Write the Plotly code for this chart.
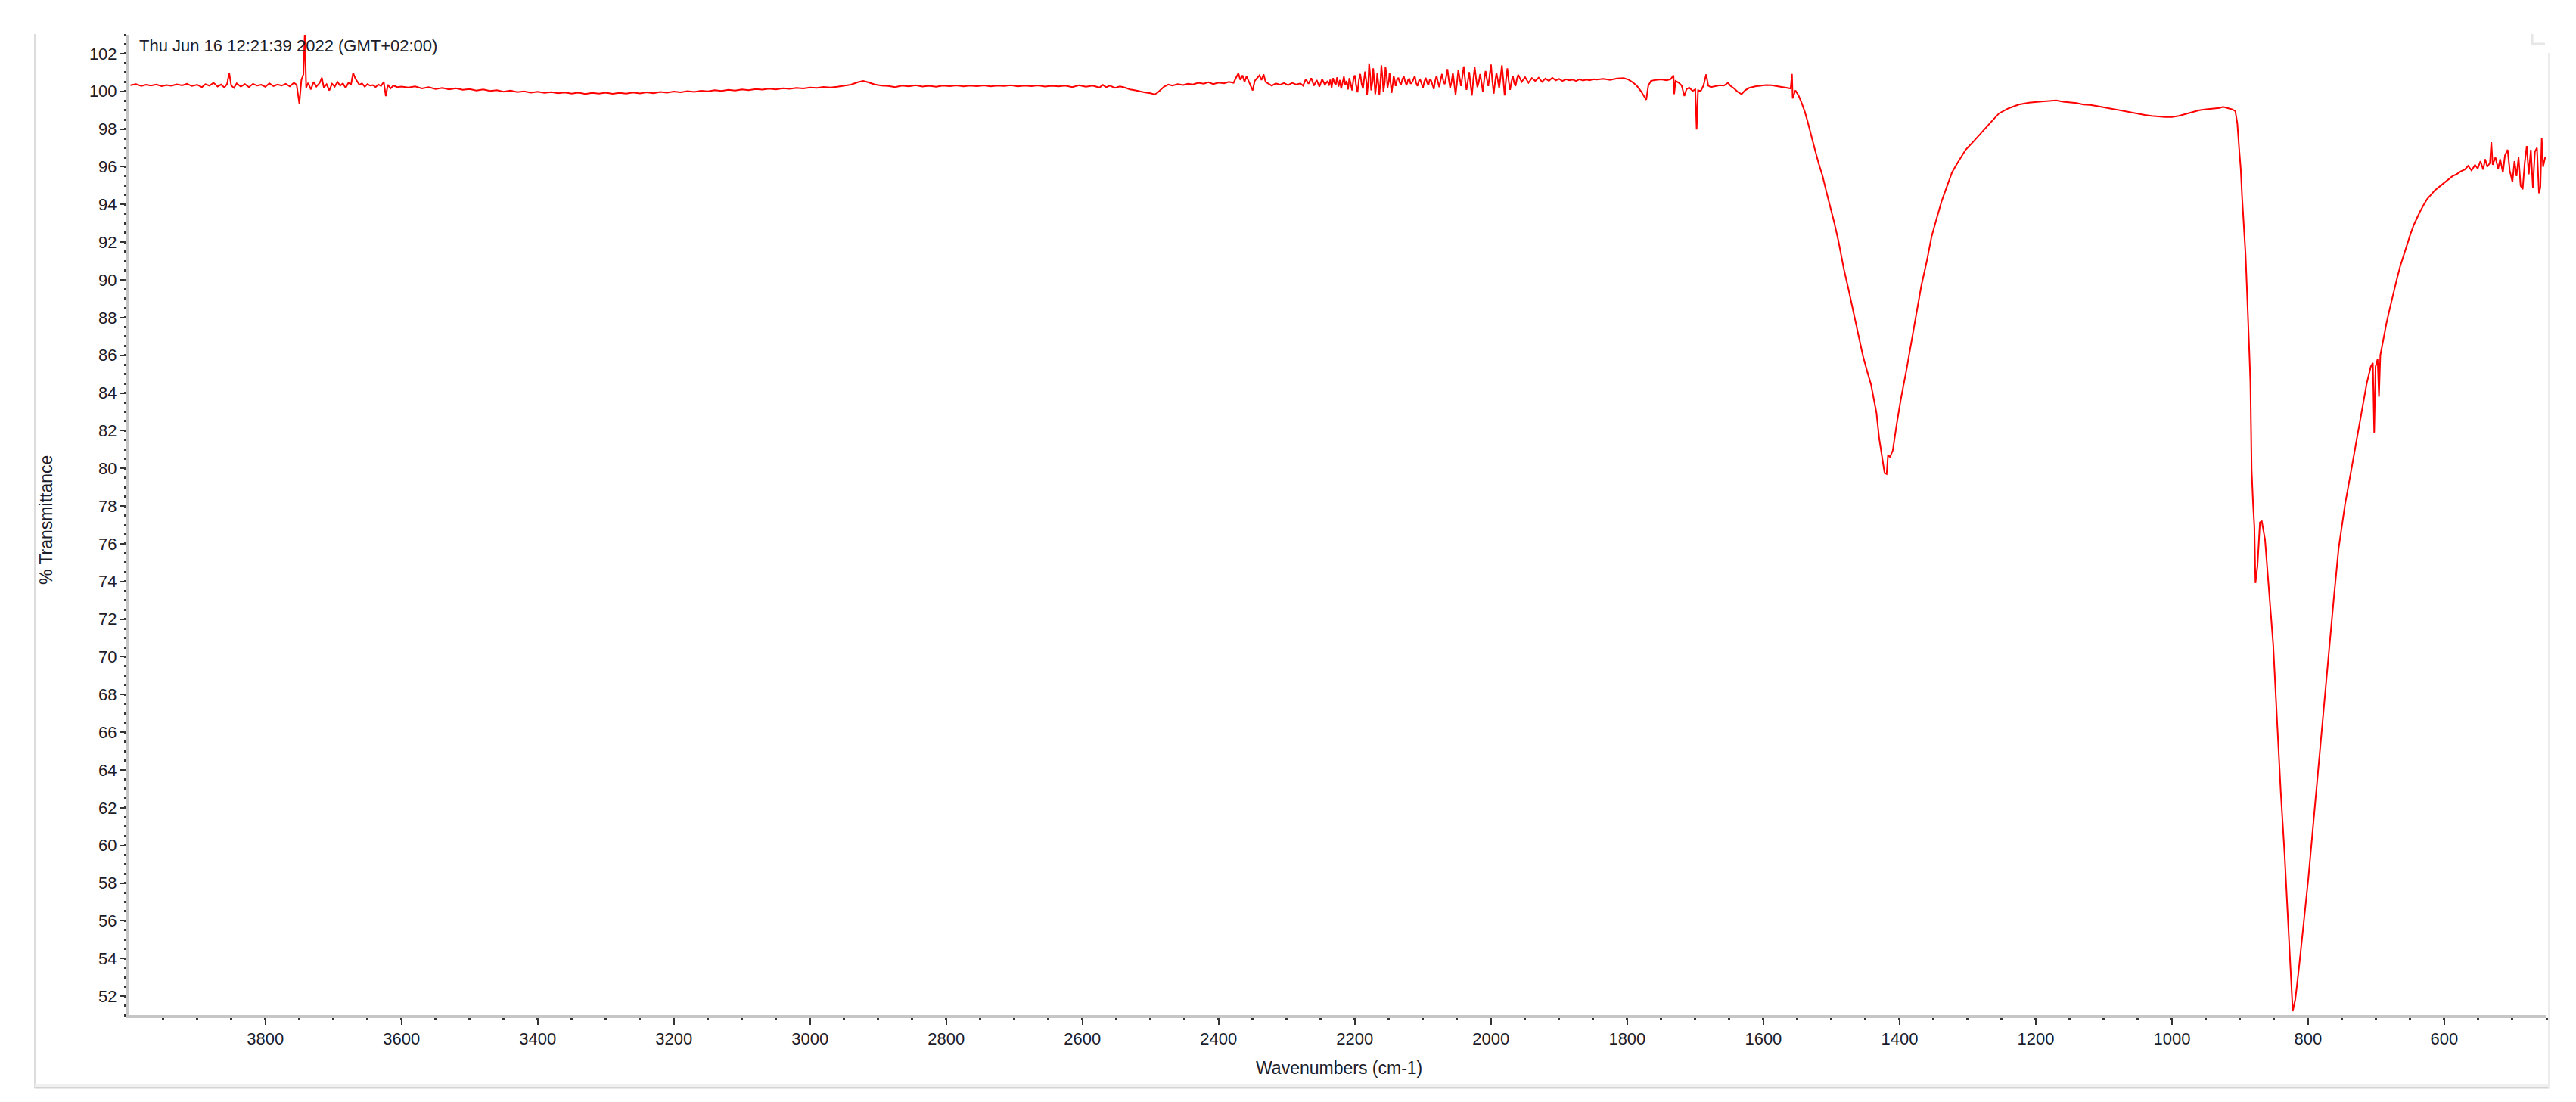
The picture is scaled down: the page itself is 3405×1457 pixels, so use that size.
import plotly.graph_objects as go

# ---------------- data ----------------
wn_4000_3600 = [3998, 3990, 3982, 3975, 3968, 3960, 3952, 3945, 3938, 3930, 3922, 3915, 3908, 3900,
                3893, 3888, 3882, 3876, 3870, 3865, 3860, 3856, 3853, 3850, 3846, 3842, 3836, 3830,
                3824, 3818, 3812, 3806, 3800, 3794, 3788, 3782, 3776, 3770, 3764, 3758, 3754, 3750,
                3747, 3744, 3742, 3740, 3737, 3733, 3729, 3725, 3720, 3717, 3714, 3710, 3706, 3702,
                3698, 3694, 3690, 3686, 3682, 3678, 3674, 3671, 3668, 3665, 3662, 3658, 3654, 3650,
                3646, 3642, 3638, 3634, 3630, 3626, 3623, 3620, 3616, 3612, 3606, 3600]
t_4000_3600 = [100.32, 100.38, 100.28, 100.35, 100.30, 100.36, 100.27, 100.33, 100.29, 100.37, 100.31,
               100.40, 100.28, 100.35, 100.22, 100.38, 100.30, 100.45, 100.25, 100.36, 100.20, 100.40,
               100.98, 100.30, 100.18, 100.42, 100.25, 100.38, 100.22, 100.40, 100.30, 100.35, 100.24,
               100.42, 100.28, 100.36, 100.30, 100.40, 100.26, 100.45, 100.35, 99.35, 100.60, 100.90,
               103.10, 100.20, 100.45, 100.10, 100.50, 100.25, 100.45, 100.72, 100.20, 100.38, 100.05,
               100.40, 100.25, 100.50, 100.30, 100.42, 100.18, 100.45, 100.38, 100.98, 100.70, 100.55,
               100.35, 100.42, 100.25, 100.38, 100.30, 100.33, 100.22, 100.36, 100.28, 100.50, 99.75,
               100.35, 100.15, 100.30, 100.22, 100.25]

wn_3600_2890 = [3590, 3580, 3570, 3560, 3550, 3540, 3530, 3520, 3510, 3500, 3490, 3480, 3470, 3460,
                3450, 3440, 3430, 3420, 3410, 3400, 3390, 3380, 3370, 3360, 3350, 3340, 3330, 3320,
                3310, 3300, 3290, 3280, 3270, 3260, 3250, 3240, 3230, 3220, 3210, 3200, 3190, 3180,
                3170, 3160, 3150, 3140, 3130, 3120, 3110, 3100, 3090, 3080, 3070, 3060, 3050, 3040,
                3030, 3020, 3010, 3000, 2990, 2980, 2970, 2960, 2950, 2940, 2930, 2922, 2915, 2905,
                2895]
t_3600_2890 = [100.20, 100.26, 100.15, 100.22, 100.12, 100.18, 100.10, 100.16, 100.08, 100.12, 100.04,
               100.10, 100.02, 100.06, 99.98, 100.04, 99.96, 100.00, 99.93, 99.98, 99.92, 99.96, 99.90,
               99.94, 99.88, 99.93, 99.86, 99.92, 99.88, 99.93, 99.87, 99.92, 99.88, 99.94, 99.89, 99.95,
               99.90, 99.97, 99.93, 99.99, 99.95, 100.01, 99.97, 100.03, 100.00, 100.06, 100.02, 100.08,
               100.04, 100.10, 100.06, 100.12, 100.09, 100.14, 100.10, 100.16, 100.13, 100.18, 100.15,
               100.20, 100.18, 100.23, 100.20, 100.24, 100.28, 100.35, 100.48, 100.55, 100.48, 100.36,
               100.30]

wn_2890_2380 = [2885, 2875, 2865, 2855, 2845, 2835, 2825, 2815, 2805, 2795, 2785, 2775, 2765, 2755,
                2745, 2735, 2725, 2715, 2705, 2695, 2685, 2675, 2665, 2655, 2645, 2635, 2625, 2615,
                2605, 2595, 2585, 2575, 2570, 2565, 2560, 2552, 2545, 2538, 2530, 2522, 2515, 2508,
                2500, 2494, 2490, 2485, 2480, 2474, 2468, 2460, 2452, 2445, 2438, 2430, 2422, 2415,
                2408, 2400, 2392, 2385]
t_2890_2380 = [100.28, 100.22, 100.30, 100.26, 100.32, 100.25, 100.29, 100.24, 100.30, 100.27, 100.31,
               100.26, 100.30, 100.27, 100.31, 100.26, 100.30, 100.28, 100.32, 100.26, 100.30, 100.27,
               100.31, 100.25, 100.29, 100.26, 100.30, 100.22, 100.32, 100.24, 100.30, 100.20, 100.34,
               100.22, 100.30, 100.18, 100.26, 100.20, 100.10, 100.05, 99.98, 99.94, 99.90, 99.84,
               99.92, 100.10, 100.25, 100.36, 100.30, 100.38, 100.33, 100.40, 100.36, 100.45, 100.40,
               100.48, 100.38, 100.46, 100.42, 100.50]

wn_2380_2242 = [2378, 2374, 2371, 2368, 2365, 2362, 2359, 2356, 2353, 2350, 2347, 2344, 2340, 2337,
                2334, 2331, 2327, 2322, 2316, 2310, 2304, 2298, 2292, 2286, 2280, 2276, 2272, 2268,
                2264, 2260, 2256, 2252, 2248, 2244]
t_2380_2242 = [100.45, 100.75, 100.95, 100.60, 100.85, 100.50, 100.80, 100.55, 100.30, 100.05, 100.55,
               100.70, 100.85, 100.60, 100.90, 100.50, 100.40, 100.30, 100.42, 100.35, 100.44, 100.33,
               100.45, 100.36, 100.42, 100.30, 100.65, 100.40, 100.70, 100.30, 100.60, 100.25, 100.65,
               100.35]

wn_2240_1960 = [2240, 2238, 2236, 2234, 2232, 2230, 2228, 2226, 2224, 2222, 2220, 2218, 2216, 2214,
                2212, 2210, 2208, 2206, 2204, 2202, 2200, 2198, 2196, 2194, 2192, 2190, 2188, 2186,
                2185, 2183, 2182, 2180, 2179, 2177, 2176, 2174, 2173, 2171, 2170, 2168, 2167, 2165,
                2164, 2162, 2161, 2159, 2158, 2156, 2155, 2153, 2152, 2150, 2149, 2147, 2146, 2144,
                2143, 2141, 2140, 2138, 2136, 2134, 2132, 2130, 2128, 2126, 2124, 2122, 2120, 2118,
                2116, 2114, 2112, 2110, 2108, 2106, 2104, 2102, 2100, 2098, 2096, 2094, 2092, 2090,
                2088, 2086, 2084, 2082, 2080, 2078, 2076, 2074, 2072, 2070, 2068, 2066, 2064, 2062,
                2060, 2058, 2056, 2054, 2052, 2050, 2048, 2046, 2044, 2042, 2040, 2038, 2036, 2034,
                2032, 2030, 2028, 2026, 2024, 2022, 2020, 2018, 2016, 2014, 2012, 2010, 2008, 2006,
                2004, 2002, 2000, 1998, 1996, 1994, 1992, 1990, 1988, 1986, 1984, 1982, 1980, 1978,
                1976, 1974, 1972, 1970, 1968, 1966, 1964, 1962, 1960]
t_2240_1960 = [100.55, 100.30, 100.62, 100.20, 100.70, 100.45, 100.35, 100.75, 100.25, 100.60, 100.15,
               100.50, 100.78, 100.35, 100.55, 100.10, 100.70, 100.40, 100.05, 100.65, 100.85, 100.30,
               99.95, 100.60, 100.92, 100.40, 100.15, 100.75, 101.05, 100.50, 99.82, 100.60, 101.48,
               100.70, 100.05, 100.55, 101.22, 100.40, 99.85, 100.45, 100.95, 100.25, 99.80, 100.70,
               101.38, 100.60, 99.98, 100.50, 101.28, 100.75, 100.18, 100.55, 100.98, 100.30, 99.92,
               100.45, 100.82, 100.50, 100.28, 100.62, 100.72, 100.45, 100.38, 100.66, 100.78, 100.50,
               100.32, 100.58, 100.68, 100.40, 100.48, 100.62, 100.82, 100.45, 100.28, 100.55, 100.62,
               100.40, 100.18, 100.50, 100.72, 100.48, 100.32, 100.60, 100.58, 100.35, 100.12, 100.55,
               100.82, 100.50, 100.22, 100.60, 100.92, 100.55, 100.38, 100.75, 101.18, 100.62, 100.18,
               100.50, 100.98, 100.40, 99.82, 100.45, 101.12, 100.70, 100.28, 100.80, 101.32, 100.60,
               100.08, 100.55, 101.02, 100.35, 99.78, 100.62, 101.28, 100.70, 100.22, 100.48, 100.92,
               100.50, 99.98, 100.60, 101.08, 100.65, 100.28, 100.85, 101.42, 100.55, 99.88, 100.50,
               100.98, 100.60, 100.18, 100.75, 101.38, 100.65, 99.78, 100.60, 101.22, 100.55, 100.08,
               100.50, 100.82, 100.45, 100.28, 100.65, 100.88]

wn_1955_1850 = [1955, 1950, 1945, 1940, 1935, 1930, 1925, 1920, 1915, 1910, 1905, 1900, 1895, 1890,
                1885, 1880, 1875, 1870, 1865, 1860, 1855, 1850]
t_1955_1850 = [100.50, 100.75, 100.45, 100.70, 100.55, 100.72, 100.50, 100.68, 100.55, 100.72, 100.58,
               100.66, 100.55, 100.64, 100.58, 100.62, 100.55, 100.64, 100.57, 100.62, 100.58, 100.64]

wn_1850_900 = [1845, 1835, 1825, 1815, 1805, 1798, 1792, 1786, 1780, 1776, 1772, 1769, 1765, 1758,
               1750, 1742, 1736, 1732, 1731, 1729, 1724, 1720, 1716, 1713, 1709, 1704, 1700, 1698,
               1696, 1692, 1688, 1684, 1681, 1677, 1670, 1664, 1658, 1652, 1648, 1643, 1638, 1632,
               1627, 1621, 1612, 1604, 1596, 1588, 1580, 1572, 1565, 1560, 1558, 1557, 1553, 1548,
               1544, 1539, 1535, 1530, 1525, 1519, 1513, 1508, 1502, 1496, 1490, 1486, 1482, 1475,
               1468, 1461, 1454, 1448, 1442, 1438, 1434, 1430, 1426, 1422, 1419, 1417, 1414, 1410,
               1404, 1398, 1390, 1383, 1375, 1368, 1360, 1353, 1346, 1338, 1330, 1323, 1315, 1303,
               1290, 1278, 1265, 1254, 1240, 1225, 1210, 1195, 1180, 1170, 1160, 1150, 1140, 1130,
               1120, 1110, 1100, 1090, 1080, 1070, 1060, 1050, 1040, 1030, 1020, 1010, 1000, 990,
               980, 970, 960, 950, 940, 930, 925, 918, 912, 907]
t_1850_900 = [100.62, 100.66, 100.60, 100.68, 100.70, 100.62, 100.48, 100.30, 100.02, 99.80, 99.55,
              100.30, 100.56, 100.60, 100.63, 100.58, 100.65, 100.85, 99.85, 100.55, 100.45, 100.30,
              99.75, 100.10, 100.20, 100.02, 100.10, 97.98, 100.05, 100.02, 100.30, 100.90, 100.30,
              100.22, 100.28, 100.32, 100.30, 100.45, 100.28, 100.15, 99.98, 99.85, 100.05, 100.18,
              100.26, 100.30, 100.33, 100.32, 100.28, 100.24, 100.18, 100.15, 100.92, 99.62, 100.05,
              99.75, 99.40, 98.90, 98.40, 97.75, 97.00, 96.20, 95.50, 94.75, 93.95, 93.05, 92.10,
              91.33, 90.60, 89.50, 88.30, 87.10, 86.00, 85.20, 84.45, 83.70, 82.95, 81.60, 80.60,
              79.75, 79.70, 80.70, 80.60, 80.95, 82.40, 83.70, 85.20, 86.60, 88.20, 89.70, 91.00,
              92.30, 93.20, 94.20, 95.00, 95.70, 96.20, 96.90, 97.40, 97.90, 98.40, 98.83, 99.10,
              99.30, 99.40, 99.45, 99.50, 99.52, 99.45, 99.42, 99.38, 99.30, 99.28, 99.22, 99.15,
              99.08, 99.00, 98.95, 98.88, 98.82, 98.75, 98.70, 98.66, 98.64, 98.64, 98.70, 98.80,
              98.90, 99.00, 99.05, 99.08, 99.12, 99.18, 99.10, 99.05, 98.95]

wn_905_450 = [904, 901, 899, 897, 895, 892, 890, 888, 886, 884.8, 883, 881, 879, 877.4, 874.4,
              870.8, 868.1, 863.3, 857.0, 851.4, 845.9, 840.3, 834.8, 829.2, 825.6, 822.6, 818.9,
              814.4, 807.0, 799.7, 792.2, 784.8, 777.4, 770.0, 762.6, 755.2, 745.9, 736.7, 725.6,
              714, 708, 705, 703, 701, 698, 696, 694, 690, 685, 680, 675, 670, 665, 660, 655, 650,
              645, 640, 636, 630, 625, 620, 614, 607, 600, 594, 588, 582, 576, 570, 565, 560, 555,
              551, 547, 543, 540, 537, 533, 531, 529, 525, 521, 518, 514, 511, 507, 504, 500, 497,
              494, 491, 488, 485, 482, 479, 476, 473, 470, 467, 464, 461, 459, 457, 455, 452]
t_905_450 = [98.30, 96.80, 95.90, 94.40, 93.20, 91.40, 89.60, 87.20, 85.80, 84.50, 79.90, 78.20,
             76.90, 73.92, 74.84, 77.14, 77.20, 76.22, 73.46, 70.70, 66.78, 62.87, 59.64, 55.96,
             53.20, 51.20, 51.82, 53.20, 55.73, 58.26, 61.25, 64.25, 67.01, 70.23, 73.00, 75.77,
             78.07, 79.91, 82.21, 84.50, 85.40, 85.60, 81.90, 85.40, 85.80, 83.80, 86.00, 86.80,
             87.70, 88.50, 89.30, 90.00, 90.70, 91.30, 91.80, 92.40, 92.90, 93.30, 93.60, 94.00,
             94.30, 94.50, 94.75, 94.95, 95.15, 95.30, 95.50, 95.60, 95.75, 95.85, 96.05, 95.80,
             96.10, 95.90, 96.30, 95.85, 96.40, 96.00, 96.20, 97.30, 96.10, 96.50, 95.90, 96.40,
             95.70, 96.60, 96.90, 95.80, 95.20, 96.30, 95.50, 96.50, 95.00, 94.80, 96.20, 97.10,
             95.60, 96.90, 94.90, 96.80, 97.00, 94.60, 94.90, 97.50, 96.00, 96.50]

wavenumbers = (wn_4000_3600 + wn_3600_2890 + wn_2890_2380 + wn_2380_2242 + wn_2240_1960
               + wn_1955_1850 + wn_1850_900 + wn_905_450)
transmittance = (t_4000_3600 + t_3600_2890 + t_2890_2380 + t_2380_2242 + t_2240_1960
                 + t_1955_1850 + t_1850_900 + t_905_450)

x_tick_values = [3800, 3600, 3400, 3200, 3000, 2800, 2600, 2400, 2200, 2000, 1800, 1600, 1400,
                 1200, 1000, 800, 600]
x_tick_labels = [str(v) for v in x_tick_values]
y_tick_values = list(range(52, 104, 2))
y_tick_labels = [str(v) for v in y_tick_values]

timestamp = "Thu Jun 16 12:21:39 2022 (GMT+02:00)"
x_title = "Wavenumbers (cm-1)"
y_title = "% Transmittance"

# ---------------- figure ----------------
FONT = "Liberation Sans, Arial, sans-serif"
TXT = "#1c1c2a"
AXIS_GRAY = "#c6c6c6"
W, H = 3405, 1457
ML, MR, MT, MB = 163, 47, 38, 123

fig = go.Figure()
fig.add_trace(go.Scatter(x=wavenumbers, y=transmittance, mode="lines",
                         line=dict(color="#ff0000", width=2), hoverinfo="skip",
                         showlegend=False))

fig.update_layout(
    width=W, height=H,
    margin=dict(l=ML, r=MR, t=MT, b=MB),
    paper_bgcolor="white", plot_bgcolor="white",
    font=dict(family=FONT, size=22, color=TXT),
    showlegend=False,
)

fig.update_xaxes(
    range=[3999.6, 450], autorange=False,
    showgrid=False, zeroline=False,
    showline=True, linecolor=AXIS_GRAY, linewidth=4,
    tickmode="array", tickvals=x_tick_values, ticktext=x_tick_labels,
    ticks="outside", ticklen=9, tickwidth=2, tickcolor="#333333",
    tickfont=dict(family=FONT, size=22, color=TXT),
    minor=dict(tickmode="linear", tick0=0, dtick=50, ticks="outside", ticklen=3,
               tickwidth=3, tickcolor="#333333", showgrid=False),
)
fig.update_yaxes(
    range=[51.0, 103.0], autorange=False,
    showgrid=False, zeroline=False,
    showline=True, linecolor=AXIS_GRAY, linewidth=4,
    tickmode="array", tickvals=y_tick_values, ticktext=y_tick_labels,
    ticks="outside", ticklen=8, tickwidth=2, tickcolor="#333333",
    tickfont=dict(family=FONT, size=22, color=TXT),
    minor=dict(tickmode="linear", tick0=0, dtick=0.5, ticks="outside", ticklen=3,
               tickwidth=3, tickcolor="#333333", showgrid=False),
)

pw = W - ML - MR
ph = H - MT - MB


def px_x(p):
    return (p - ML) / pw


def px_y(p):
    return (H - MB - p) / ph


# window frame (light grey)
frame = "#dcdcdc"
fig.add_shape(type="line", xref="paper", yref="paper", x0=px_x(38), x1=px_x(38),
              y0=px_y(37), y1=px_y(1430), line=dict(color=frame, width=2))
fig.add_shape(type="line", xref="paper", yref="paper", x0=px_x(38), x1=px_x(3361),
              y0=px_y(1430), y1=px_y(1430), line=dict(color="#d4d4d4", width=3))
fig.add_shape(type="line", xref="paper", yref="paper", x0=px_x(38), x1=px_x(3361),
              y0=px_y(1427), y1=px_y(1427), line=dict(color="#f0f0f0", width=4))
fig.add_shape(type="line", xref="paper", yref="paper", x0=px_x(3361), x1=px_x(3361),
              y0=px_y(62), y1=px_y(1430), line=dict(color="#ececec", width=2))
fig.add_shape(type="path", xref="paper", yref="paper",
              path=f"M {px_x(3339)} {px_y(37)} L {px_x(3339)} {px_y(50)} L {px_x(3356)} {px_y(50)}",
              line=dict(color="#e6e6e6", width=3))

fig.add_annotation(text=timestamp, xref="paper", yref="paper", x=0, y=px_y(53),
                   xanchor="left", yanchor="middle", xshift=11, showarrow=False,
                   font=dict(family=FONT, size=22, color=TXT))
fig.add_annotation(text=x_title, xref="paper", yref="paper", x=px_x(1762), y=px_y(1404),
                   xanchor="center", yanchor="middle", showarrow=False,
                   font=dict(family=FONT, size=23, color=TXT))
fig.add_annotation(text=y_title, xref="paper", yref="paper", x=px_x(53), y=px_y(680),
                   xanchor="center", yanchor="middle", showarrow=False, textangle=-90,
                   font=dict(family=FONT, size=23, color=TXT))

fig.write_html("out.html")
